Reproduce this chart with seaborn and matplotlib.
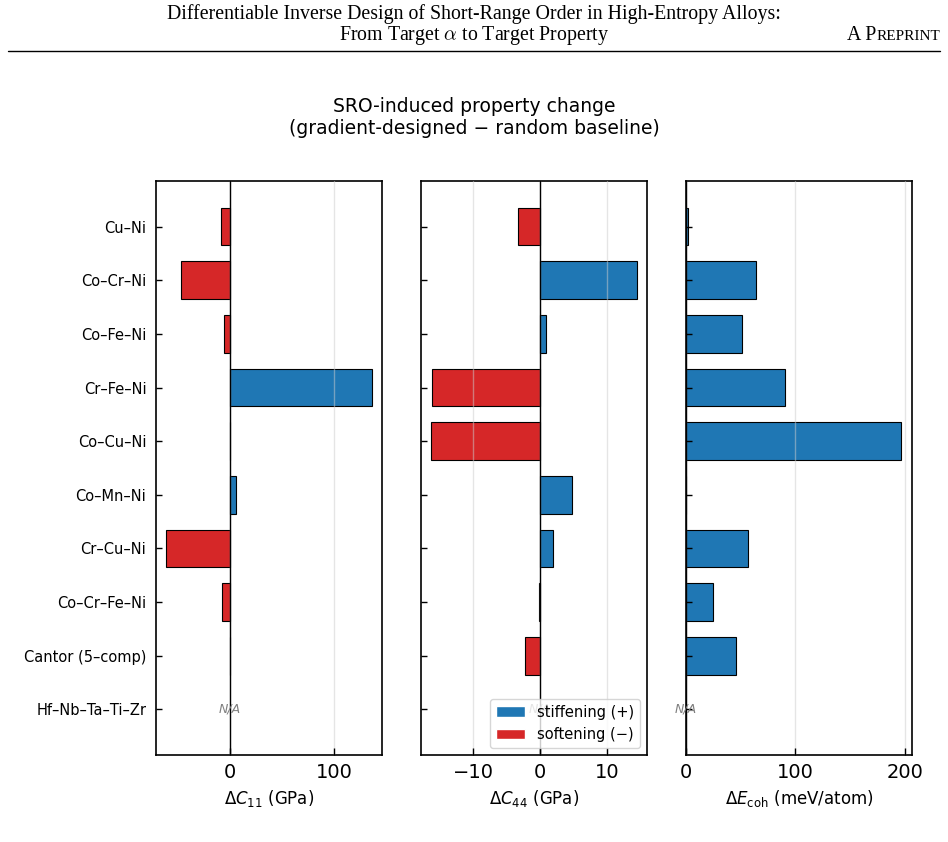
import numpy as np
import pandas as pd
import matplotlib
matplotlib.use("Agg")
import matplotlib.pyplot as plt
import seaborn as sns
from matplotlib.patches import Patch

alloys = ["Cu–Ni", "Co–Cr–Ni", "Co–Fe–Ni", "Cr–Fe–Ni", "Co–Cu–Ni", "Co–Mn–Ni",
          "Cr–Cu–Ni", "Co–Cr–Fe–Ni", "Cantor (5–comp)", "Hf–Nb–Ta–Ti–Zr"]
d_c11 = [-9.0, -47.0, -6.0, 136.5, 0.0, 5.5, -61.0, -8.0, 0.0, np.nan]
d_c44 = [-3.35, 14.5, 0.8, -16.2, -16.35, 4.7, 1.9, -0.15, -2.25, np.nan]
d_ecoh = [2.1, 64.3, 51.2, 90.3, 196.4, 0.0, 57.0, 24.7, 46.0, np.nan]

panels = [
    (d_c11, r"$\Delta C_{11}$ (GPa)", [0, 100]),
    (d_c44, r"$\Delta C_{44}$ (GPa)", [-10, 0, 10]),
    (d_ecoh, r"$\Delta E_{\rm coh}$ (meV/atom)", [0, 100, 200]),
]
lab_pos = "stiffening (+)"
lab_neg = "softening (−)"
colors = {lab_pos: "#1f77b4", lab_neg: "#d62728"}

sns.set_style("white")
plt.rcParams["font.family"] = ["DejaVu Sans"]
plt.rcParams.update({"text.color": "black", "axes.labelcolor": "black",
                     "xtick.color": "black", "ytick.color": "black"})

fig, axes = plt.subplots(1, 3, figsize=(9.48, 8.42), dpi=100, sharey=True)
fig.subplots_adjust(left=0.1646, right=0.962, top=0.785, bottom=0.1033, wspace=0.17)

for ax, (vals, xlabel, ticks) in zip(axes, panels):
    df = pd.DataFrame({"alloy": alloys, "value": vals}).dropna()
    df["sign"] = np.where(df["value"] >= 0, lab_pos, lab_neg)
    sns.barplot(data=df, y="alloy", x="value", hue="sign", order=alloys,
                hue_order=[lab_pos, lab_neg], palette=colors, orient="h",
                dodge=False, width=0.7, errorbar=None, edgecolor="black",
                linewidth=0.8, saturation=1, legend=False, ax=ax)
    ax.axvline(0, color="black", lw=1.0, zorder=3)
    for i, v in enumerate(vals):
        if np.isnan(v):
            ax.text(0, i, "N/A", ha="center", va="center", fontsize=9,
                    style="italic", color="gray", zorder=4)
    ax.set_ylim(9.85, -0.85)
    ax.set_xticks(ticks)
    ax.set_axisbelow(False)
    ax.grid(axis="x", color="0.8", lw=1.0, alpha=0.5)
    ax.grid(axis="y", visible=False)
    ax.set_xlabel(xlabel, fontsize=12)
    ax.set_ylabel("")
    ax.tick_params(axis="both", direction="in", width=1, color="black",
                   bottom=True, left=True)
    ax.tick_params(axis="x", labelsize=14, pad=6, length=5)
    ax.tick_params(axis="y", labelsize=10.5, length=4, pad=7)
    for s in ax.spines.values():
        s.set_color("black")
        s.set_linewidth(1.2)
        s.set_visible(True)

axes[1].legend(handles=[Patch(facecolor=colors[lab_pos], label=lab_pos),
                        Patch(facecolor=colors[lab_neg], label=lab_neg)],
               loc="lower right", fontsize=10.5)

fig.suptitle("SRO-induced property change\n(gradient-designed − random baseline)",
             x=0.5, y=0.885, fontsize=13.5, va="top")

# page header
fig.text(0.5, 1 - 19 / 842, "Differentiable Inverse Design of Short-Range Order in High-Entropy Alloys:",
         ha="center", va="baseline", family="Liberation Serif", fontsize=14.3)
fig.text(0.5, 1 - 40 / 842, r"From Target $\alpha$ to Target Property",
         ha="center", va="baseline", family="Liberation Serif", fontsize=14.3,
         math_fontfamily="cm")
t_small = fig.text(940 / 948, 1 - 40 / 842, "REPRINT", ha="right", va="baseline",
                   family="Liberation Serif", fontsize=11)
r = fig.canvas.get_renderer()
w = t_small.get_window_extent(r).width
fig.text((940 - w) / 948, 1 - 40 / 842, "A P", ha="right", va="baseline",
         family="Liberation Serif", fontsize=14.3)
fig.add_artist(plt.Line2D([8 / 948, 940 / 948], [1 - 51 / 842, 1 - 51 / 842],
                          color="black", lw=1.0, transform=fig.transFigure))

fig.savefig("out.png", dpi=100)
